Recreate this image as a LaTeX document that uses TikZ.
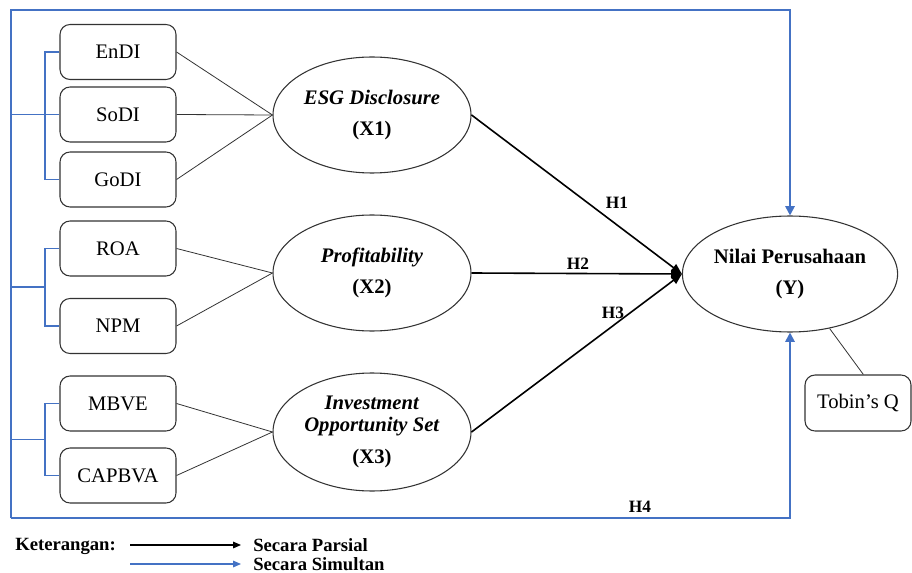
\documentclass[tikz,border=0pt]{standalone}
\usepackage{fontspec}
\setmainfont{Liberation Serif}
\usetikzlibrary{shapes.geometric,arrows.meta}
\definecolor{frameblue}{RGB}{68,114,196}
\begin{document}
\begin{tikzpicture}[x=0.75pt,y=-0.75pt,
  every node/.style={font=\fontsize{15.5}{18}\selectfont},
  ind/.style={draw=black!80,line width=0.8pt,rounded corners=7.5pt,minimum width=87pt,minimum height=41.25pt,inner sep=0pt},
  lat/.style={draw=black!80,line width=0.8pt,ellipse,minimum width=148.5pt,minimum height=87pt,inner sep=0pt,align=center},
  load/.style={draw=black!80,line width=0.6pt},
  blueln/.style={draw=frameblue,line width=1.4pt},
  bluearr/.style={blueln,-{Triangle[length=7pt,width=7pt]}},
  blackarr/.style={draw=black,line width=1.2pt,-{Triangle[length=8pt,width=6.5pt]}},
  hlab/.style={font=\fontsize{13}{15}\selectfont\bfseries},
  leg/.style={font=\fontsize{14}{16}\selectfont\bfseries}
]
\useasboundingbox (0,0) rectangle (912,573);
% indicators
\node[ind] (endi) at (118,52) {EnDI};
\node[ind] (sodi) at (118,114.5) {SoDI};
\node[ind] (godi) at (118,179.5) {GoDI};
\node[ind] (roa) at (118,248.5) {ROA};
\node[ind] (npm) at (118,326) {NPM};
\node[ind] (mbve) at (118,403.5) {MBVE};
\node[ind] (capbva) at (118,475.5) {CAPBVA};
% latent variables
\node[lat] (esg) at (372,115) {\textbf{\textit{ESG Disclosure}}\\[5pt]\textbf{(X1)}};
\node[lat] (prof) at (372,273) {\textbf{\textit{Profitability}}\\[5pt]\textbf{(X2)}};
\node[lat,minimum height=88.5pt] (ios) at (372,432) {\textbf{\textit{Investment}}\\[-1pt]\textbf{\textit{Opportunity Set}}\\[6pt]\textbf{(X3)}};
\node[lat,minimum width=147pt] (nilai) at (790,274) {\textbf{Nilai Perusahaan}\\[5pt]\textbf{(Y)}};
\node[ind,minimum width=79.5pt,minimum height=42pt] (tq) at (858,403) {Tobin’s Q};
% loadings
\draw[load] (endi.east) -- (esg.west);
\draw[load] (sodi.east) -- (esg.west);
\draw[load] (godi.east) -- (esg.west);
\draw[load] (roa.east) -- (prof.west);
\draw[load] (npm.east) -- (prof.west);
\draw[load] (mbve.east) -- (ios.west);
\draw[load] (capbva.east) -- (ios.west);
\draw[load] ([xshift=4pt]tq.north) -- (nilai.-54);
% partial paths
\draw[blackarr] (esg.east) -- (nilai.west);
\draw[blackarr] (prof.east) -- (nilai.west);
\draw[blackarr] (ios.east) -- (nilai.west);
\node[hlab] at (617,203) {H1};
\node[hlab] at (578,264) {H2};
\node[hlab] at (613,313) {H3};
\node[hlab] at (640,507) {H4};
% blue frame
\coordinate (tl) at (11,10);
\coordinate (bl) at (11,518);
\coordinate (tr) at (790,10);
\coordinate (br) at (790,518);
\draw[bluearr] (bl) -- (tl) -- (tr) -- (nilai.north);
\draw[bluearr] (bl) -- (br) -- (nilai.south);
% brackets
\coordinate (b1) at (45,114.5);
\coordinate (b2) at (45,287);
\coordinate (b3) at (45,439.5);
\draw[blueln] (endi.west) -| (b1) |- (godi.west);
\draw[blueln] (tl |- sodi.west) -- (sodi.west);
\draw[blueln] (roa.west) -| (b2) |- (npm.west);
\draw[blueln] (tl |- b2) -- (b2);
\draw[blueln] (mbve.west) -| (b3) |- (capbva.west);
\draw[blueln] (tl |- b3) -- (b3);
% legend
\node[leg,anchor=west,inner sep=0pt] (ket) at (15,546) {Keterangan:};
\coordinate (l1a) at (130,545);
\coordinate (l1b) at (241,545);
\coordinate (l2a) at (130,564);
\coordinate (l2b) at (241,564);
\draw[draw=black,line width=0.8pt,-{Triangle[length=6pt,width=5pt]}] (l1a) -- (l1b);
\draw[draw=frameblue,line width=0.8pt,-{Triangle[length=6pt,width=5pt]}] (l2a) -- (l2b);
\node[leg,anchor=west,inner sep=0pt] (parsial) at (253,545) {Secara Parsial};
\node[leg,anchor=west,inner sep=0pt] (simultan) at (253,564) {Secara Simultan};
\end{tikzpicture}
\end{document}
